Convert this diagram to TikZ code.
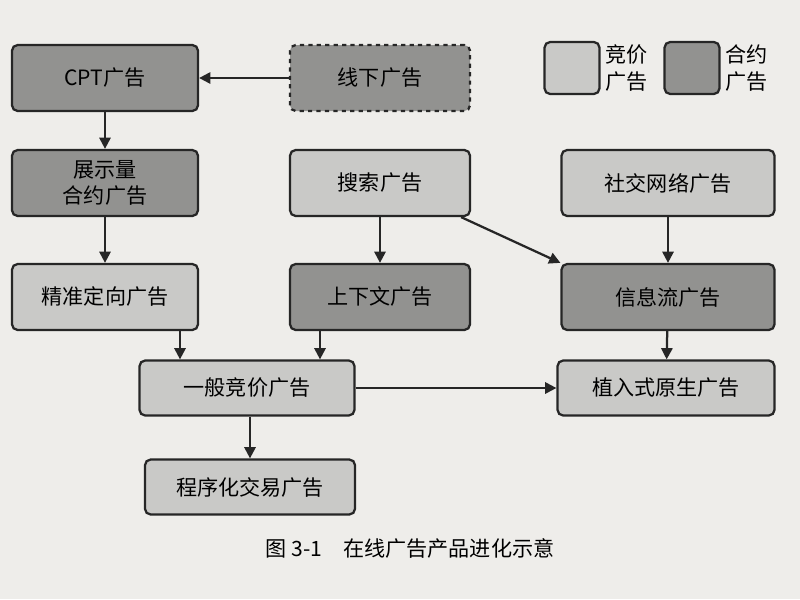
\documentclass[tikz,border=0pt]{standalone}
\usepackage{fontspec}
\setmainfont{Noto Sans CJK SC}
\usetikzlibrary{arrows.meta,positioning,calc}
\definecolor{bg}{HTML}{EEEDEA}
\definecolor{lite}{HTML}{C9C9C7}
\definecolor{dark}{HTML}{929290}
\begin{document}
\begin{tikzpicture}[x=0.025cm,y=-0.025cm,
 box/.style={draw=black!85,line width=1.6pt,rounded corners=4pt,align=center,font=\fontsize{15}{18}\selectfont,inner sep=0pt},
 L/.style={box,fill=lite}, D/.style={box,fill=dark},
 arr/.style={-{Triangle[length=8pt,width=8pt]},line width=1.6pt,black!85}]
\fill[bg] (0,0) rectangle (800,599);
\useasboundingbox (0,0) rectangle (800,599);
\node[D,minimum width=186*0.025cm,minimum height=66*0.025cm] (cpt) at (105,78) {CPT广告};
\node[D,dashed,minimum width=180*0.025cm,minimum height=66*0.025cm] (xx) at (380,78) {线下广告};
\node[L,minimum width=55*0.025cm,minimum height=52*0.025cm] (lg1) at (572,68) {};
\node[font=\fontsize{15}{19}\selectfont,align=left,anchor=west] (lt1) at (lg1.east) {竞价\\广告};
\node[D,minimum width=55*0.025cm,minimum height=52*0.025cm] (lg2) at (692,68) {};
\node[font=\fontsize{15}{19}\selectfont,align=left,anchor=west] (lt2) at (lg2.east) {合约\\广告};
\node[D,minimum width=186*0.025cm,minimum height=66*0.025cm] (zs) at (105,183) {展示量\\合约广告};
\node[L,minimum width=180*0.025cm,minimum height=66*0.025cm] (ss) at (380,183) {搜索广告};
\node[L,minimum width=213*0.025cm,minimum height=66*0.025cm] (sj) at (668,183) {社交网络广告};
\node[L,minimum width=186*0.025cm,minimum height=66*0.025cm] (jz) at (105,297) {精准定向广告};
\node[D,minimum width=180*0.025cm,minimum height=66*0.025cm] (sx) at (380,297) {上下文广告};
\node[D,minimum width=213*0.025cm,minimum height=66*0.025cm] (xl) at (668,297) {信息流广告};
\node[L,minimum width=215*0.025cm,minimum height=55*0.025cm] (yb) at (247,388) {一般竞价广告};
\node[L,minimum width=217*0.025cm,minimum height=55*0.025cm] (zr) at (666,388) {植入式原生广告};
\node[L,minimum width=210*0.025cm,minimum height=55*0.025cm] (cx) at (250,487) {程序化交易广告};
\node[font=\fontsize{15}{18}\selectfont] (cap) at (410,548) {图 3-1\quad 在线广告产品进化示意};
\draw[arr] (xx) -- (cpt);
\draw[arr] (cpt) -- (zs);
\draw[arr] (zs) -- (jz);
\draw[arr] (ss) -- (sx);
\draw[arr] (sj) -- (xl);
\draw[arr] (xl) -- (zr);
\draw[arr] ($(ss.south east)+(-10,0)$) -- (xl.north west);
\coordinate (a2) at ($(jz.south)+(75,0)$);
\draw[arr] (a2) -- (a2 |- yb.north);
\coordinate (a3) at ($(sx.south)+(-60,0)$);
\draw[arr] (a3) -- (a3 |- yb.north);
\draw[arr] (yb) -- (zr);
\draw[arr] (yb.south -| cx.north) -- (cx);
\end{tikzpicture}
\end{document}
